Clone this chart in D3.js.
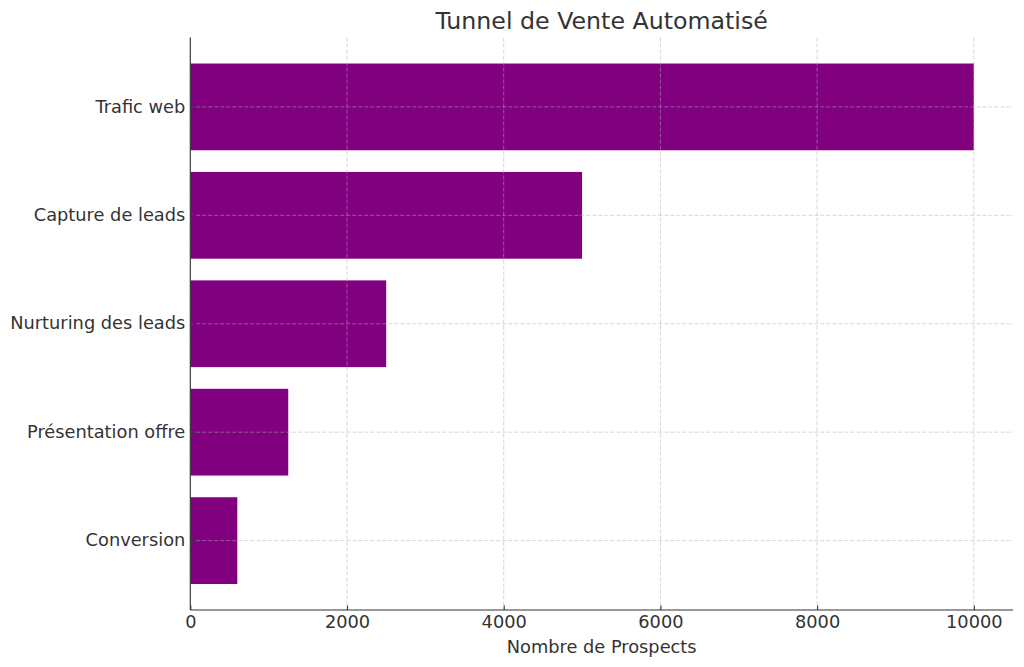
<!DOCTYPE html>
<html>
<head>
<meta charset="utf-8">
<script src="https://cdn.jsdelivr.net/npm/d3@7.9.0/dist/d3.min.js"></script>
<style>
  body { margin: 0; background: #fff; }
  svg { display: block; font-family: "DejaVu Sans", sans-serif; }
</style>
</head>
<body>
<svg width="1024" height="667"></svg>
<script>
// funnel stages, top to bottom
const stages = ["Trafic web", "Capture de leads", "Nurturing des leads", "Présentation offre", "Conversion"];
const prospects = [10000, 5000, 2500, 1250, 600];
const xTicks = [0, 2000, 4000, 6000, 8000, 10000];

const svg = d3.select("svg");
const plotLeft = 190.3, plotRight = 1013, plotTop = 37.5, plotBottom = 610;
const textColor = "#333";
const fontSize = "17.8px";

const x = d3.scaleLinear().domain([0, 10500]).range([plotLeft, plotRight]);
const y = d3.scaleBand().domain(stages).range([plotTop, plotBottom])
    .paddingInner(0.2).paddingOuter(0.24);

const data = stages.map((s, i) => ({ stage: s, value: prospects[i] }));

// bars
svg.append("g").selectAll("rect")
    .data(data)
    .enter()
    .append("rect")
    .attr("x", x(0))
    .attr("y", d => y(d.stage))
    .attr("width", d => x(d.value) - x(0))
    .attr("height", y.bandwidth())
    .attr("fill", "#800080");

// grid (drawn over bars like the original)
const grid = svg.append("g")
    .attr("stroke", "#b0b0b0")
    .attr("stroke-opacity", 0.65)
    .attr("stroke-width", 0.8)
    .attr("stroke-dasharray", "4,2");

grid.selectAll("line.vx")
    .data(xTicks)
    .enter()
    .append("line")
    .attr("x1", d => x(d)).attr("x2", d => x(d))
    .attr("y1", plotTop).attr("y2", plotBottom);

grid.selectAll("line.hy")
    .data(stages)
    .enter()
    .append("line")
    .attr("x1", plotLeft).attr("x2", plotRight)
    .attr("y1", d => y(d) + y.bandwidth() / 2)
    .attr("y2", d => y(d) + y.bandwidth() / 2);

// axes, ticks point inward
const xAxis = svg.append("g")
    .attr("transform", `translate(0,${plotBottom})`)
    .call(d3.axisBottom(x).tickValues(xTicks).tickSize(-4.5).tickPadding(5).tickFormat(d3.format("d")));

const yAxis = svg.append("g")
    .attr("transform", `translate(${plotLeft},0)`)
    .call(d3.axisLeft(y).tickSize(-4.5).tickPadding(5));

[xAxis, yAxis].forEach(ax => {
    ax.select(".domain").attr("stroke", textColor).attr("stroke-width", 1.1);
    ax.selectAll(".tick line").attr("stroke", textColor).attr("stroke-width", 1.1);
    ax.selectAll(".tick text")
        .attr("fill", textColor)
        .style("font-size", fontSize)
        .style("font-family", "DejaVu Sans, sans-serif");
});
yAxis.select(".domain").attr("d", `M0,${plotTop}V${plotBottom}`);
xAxis.select(".domain").attr("d", `M${plotLeft},0H${plotRight}`);

// labels
svg.append("text")
    .attr("x", (plotLeft + plotRight) / 2)
    .attr("y", 29)
    .attr("text-anchor", "middle")
    .attr("fill", textColor)
    .style("font-size", "23.7px")
    .text("Tunnel de Vente Automatisé");

svg.append("text")
    .attr("x", (plotLeft + plotRight) / 2)
    .attr("y", 653)
    .attr("text-anchor", "middle")
    .attr("fill", textColor)
    .style("font-size", fontSize)
    .text("Nombre de Prospects");
</script>
</body>
</html>
